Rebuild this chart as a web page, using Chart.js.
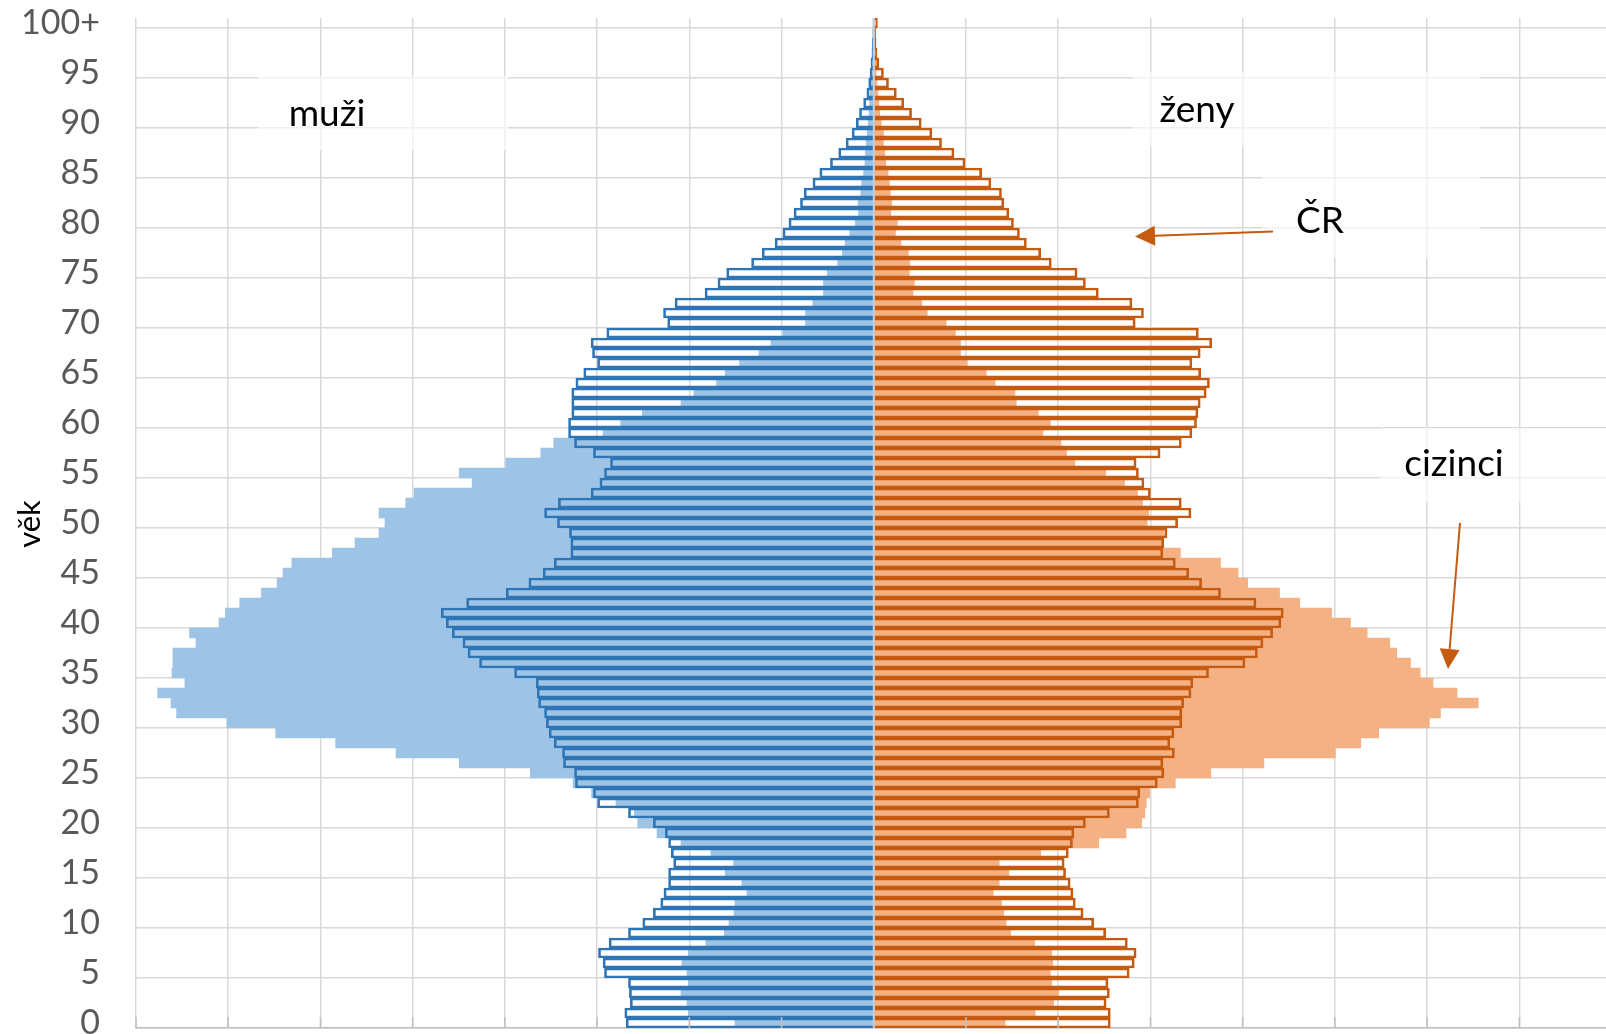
<!DOCTYPE html>
<html lang="cs">
<head>
<meta charset="utf-8">
<title>Věková struktura obyvatel ČR a cizinců</title>
<script src="https://cdn.jsdelivr.net/npm/chart.js@4.4.1/dist/chart.umd.min.js"></script>
<style>
  html, body { margin: 0; padding: 0; background: #ffffff; }
  #obal { width: 1606px; height: 1034px; position: relative; }
</style>
</head>
<body>
<div id="obal"><canvas id="pyramida" width="1606" height="1034"></canvas></div>
<script>
// Věkové kategorie 0 … 100+ (jednoleté)
const vekoveKategorie = Array.from({ length: 101 }, (_, i) => (i === 100 ? '100+' : String(i)));

// Podíl na populaci v % (index = věk)
const muziCR = [
  0.537, 0.540, 0.528, 0.530, 0.532, 0.584, 0.587, 0.597, 0.574, 0.532,
  0.501, 0.478, 0.462, 0.455, 0.445, 0.445, 0.434, 0.439, 0.445, 0.452,
  0.478, 0.532, 0.599, 0.608, 0.647, 0.649, 0.673, 0.675, 0.693, 0.704,
  0.710, 0.714, 0.727, 0.730, 0.732, 0.779, 0.855, 0.880, 0.891, 0.914,
  0.927, 0.938, 0.883, 0.797, 0.748, 0.717, 0.693, 0.657, 0.657, 0.660,
  0.686, 0.714, 0.684, 0.613, 0.594, 0.584, 0.571, 0.608, 0.649, 0.662,
  0.662, 0.655, 0.655, 0.655, 0.646, 0.629, 0.599, 0.610, 0.613, 0.579,
  0.447, 0.456, 0.431, 0.366, 0.338, 0.319, 0.265, 0.242, 0.214, 0.197,
  0.184, 0.173, 0.159, 0.151, 0.132, 0.117, 0.094, 0.076, 0.060, 0.047,
  0.038, 0.031, 0.022, 0.015, 0.011, 0.008, 0.006, 0.004, 0.003, 0.002,
  0.001
];
const muziCizinci = [
  0.301, 0.402, 0.405, 0.418, 0.402, 0.405, 0.416, 0.402, 0.364, 0.324,
  0.314, 0.303, 0.301, 0.275, 0.286, 0.322, 0.304, 0.353, 0.418, 0.470,
  0.512, 0.519, 0.559, 0.612, 0.652, 0.745, 0.899, 1.036, 1.167, 1.297,
  1.403, 1.512, 1.524, 1.553, 1.494, 1.522, 1.520, 1.520, 1.470, 1.484,
  1.420, 1.406, 1.375, 1.328, 1.294, 1.281, 1.262, 1.174, 1.125, 1.073,
  1.060, 1.073, 1.015, 0.997, 0.871, 0.899, 0.798, 0.722, 0.694, 0.587,
  0.549, 0.502, 0.418, 0.390, 0.341, 0.322, 0.291, 0.249, 0.223, 0.197,
  0.148, 0.148, 0.132, 0.109, 0.109, 0.101, 0.078, 0.068, 0.062, 0.052,
  0.040, 0.033, 0.034, 0.028, 0.026, 0.022, 0.019, 0.018, 0.016, 0.014,
  0.012, 0.010, 0.009, 0.008, 0.007, 0.005, 0.004, 0.003, 0.002, 0.001,
  0.001
];
const zenyCR = [
  0.513, 0.513, 0.504, 0.511, 0.508, 0.554, 0.565, 0.569, 0.550, 0.503,
  0.477, 0.454, 0.437, 0.432, 0.426, 0.416, 0.413, 0.422, 0.431, 0.434,
  0.459, 0.511, 0.574, 0.577, 0.615, 0.629, 0.627, 0.652, 0.642, 0.651,
  0.668, 0.668, 0.672, 0.688, 0.692, 0.726, 0.805, 0.832, 0.844, 0.865,
  0.883, 0.888, 0.829, 0.752, 0.711, 0.683, 0.654, 0.627, 0.629, 0.636,
  0.659, 0.688, 0.667, 0.600, 0.586, 0.574, 0.569, 0.621, 0.667, 0.690,
  0.700, 0.703, 0.708, 0.721, 0.728, 0.709, 0.690, 0.708, 0.733, 0.704,
  0.567, 0.585, 0.560, 0.487, 0.459, 0.441, 0.385, 0.362, 0.331, 0.316,
  0.303, 0.293, 0.282, 0.277, 0.254, 0.234, 0.198, 0.174, 0.147, 0.126,
  0.103, 0.082, 0.065, 0.049, 0.032, 0.021, 0.011, 0.007, 0.005, 0.004,
  0.008
];
const zenyCizinci = [
  0.285, 0.350, 0.390, 0.401, 0.386, 0.383, 0.388, 0.386, 0.349, 0.297,
  0.287, 0.282, 0.277, 0.259, 0.272, 0.293, 0.272, 0.362, 0.488, 0.547,
  0.581, 0.588, 0.591, 0.598, 0.654, 0.731, 0.846, 1.001, 1.056, 1.095,
  1.205, 1.229, 1.311, 1.265, 1.213, 1.185, 1.164, 1.134, 1.119, 1.070,
  1.034, 0.993, 0.924, 0.880, 0.811, 0.790, 0.752, 0.665, 0.627, 0.629,
  0.593, 0.596, 0.583, 0.572, 0.544, 0.503, 0.436, 0.418, 0.406, 0.367,
  0.383, 0.357, 0.309, 0.306, 0.263, 0.244, 0.203, 0.188, 0.188, 0.177,
  0.157, 0.116, 0.104, 0.085, 0.088, 0.077, 0.078, 0.075, 0.059, 0.047,
  0.051, 0.037, 0.039, 0.036, 0.034, 0.031, 0.026, 0.024, 0.021, 0.021,
  0.016, 0.013, 0.011, 0.009, 0.007, 0.005, 0.005, 0.004, 0.003, 0.002,
  0.002
];

// Barvy řad
const barvy = {
  muziCR: '#2E75B6',
  muziCizinci: '#9DC3E6',
  zenyCR: '#C55A11',
  zenyCizinci: '#F4B183',
  mrizka: '#d9d9d9',
  osa: '#bfbfbf',
  stred: '#c3cfdb',
  popisOsy: '#595959'
};

const PISMO = 'Lato, "Open Sans", "DejaVu Sans", sans-serif';

// Popisky v ploše grafu (pixely plátna)
const popisky = [
  { text: 'muži', x: 327, y: 126 },
  { text: 'ženy', x: 1197, y: 122 },
  { text: 'ČR', x: 1320, y: 233 },
  { text: 'cizinci', x: 1454, y: 476 }
];
// Bílé podklady textových polí
const podkladyPopisku = [
  { x: 258, y: 76, w: 250, h: 74 },
  { x: 1133, y: 72, w: 347, h: 75 },
  { x: 1262, y: 147, w: 218, h: 111 },
  { x: 1380, y: 428, w: 226, h: 74 }
];
// Šipky: odkud -> kam (hrot)
const sipky = [
  { x1: 1273, y1: 231.5, x2: 1135, y2: 236.5 },
  { x1: 1460, y1: 523, x2: 1448, y2: 669 }
];

function nakresliSipku(ctx, s) {
  const delka = 20, polosirka = 10;
  const uhel = Math.atan2(s.y2 - s.y1, s.x2 - s.x1);
  const bx = s.x2 - delka * Math.cos(uhel);
  const by = s.y2 - delka * Math.sin(uhel);
  ctx.beginPath();
  ctx.moveTo(s.x1, s.y1);
  ctx.lineTo(bx, by);
  ctx.stroke();
  ctx.beginPath();
  ctx.moveTo(s.x2, s.y2);
  ctx.lineTo(bx + polosirka * Math.sin(uhel), by - polosirka * Math.cos(uhel));
  ctx.lineTo(bx - polosirka * Math.sin(uhel), by + polosirka * Math.cos(uhel));
  ctx.closePath();
  ctx.fill();
}

const doplnky = {
  id: 'doplnkyPyramidy',
  beforeDatasetsDraw(chart) {
    const { ctx, chartArea: a } = chart;
    ctx.save();
    ctx.beginPath();
    ctx.rect(a.left, a.top, a.width, a.height);
    ctx.clip();
    ctx.fillStyle = 'rgba(255,255,255,0.6)';
    podkladyPopisku.forEach(p => ctx.fillRect(p.x, p.y, p.w, p.h));
    ctx.restore();
  },
  afterDatasetsDraw(chart) {
    const { ctx, chartArea: a, scales: { x } } = chart;
    ctx.save();
    // krátké značky na vodorovné ose
    ctx.strokeStyle = barvy.osa;
    ctx.lineWidth = 1.5;
    x.ticks.forEach(t => {
      if (t.value === 0) return;
      const px = x.getPixelForValue(t.value);
      ctx.beginPath();
      ctx.moveTo(px, a.bottom);
      ctx.lineTo(px, a.bottom - 11);
      ctx.stroke();
    });
    // svislá osa uprostřed pyramidy
    const x0 = x.getPixelForValue(0);
    ctx.strokeStyle = barvy.stred;
    ctx.lineWidth = 2;
    ctx.beginPath();
    ctx.moveTo(x0, a.top);
    ctx.lineTo(x0, a.bottom);
    ctx.stroke();
    ctx.restore();
  },
  afterDraw(chart) {
    const { ctx } = chart;
    ctx.save();
    // popisky pohlaví a řad
    ctx.fillStyle = '#000000';
    ctx.font = '37px ' + PISMO;
    ctx.textAlign = 'center';
    ctx.textBaseline = 'alphabetic';
    popisky.forEach(p => ctx.fillText(p.text, p.x, p.y));
    // šipky
    ctx.strokeStyle = barvy.zenyCR;
    ctx.fillStyle = barvy.zenyCR;
    ctx.lineWidth = 2;
    sipky.forEach(s => nakresliSipku(ctx, s));
    // název svislé osy
    ctx.fillStyle = '#000000';
    ctx.font = '31px ' + PISMO;
    ctx.textAlign = 'center';
    ctx.textBaseline = 'middle';
    ctx.translate(30, 524);
    ctx.rotate(-Math.PI / 2);
    ctx.fillText('věk', 0, 0);
    ctx.restore();
  }
};

function vykresli() {
  new Chart(document.getElementById('pyramida'), {
    type: 'bar',
    data: {
      labels: vekoveKategorie,
      datasets: [
        {
          label: 'muži – ČR',
          data: muziCR.map(v => -v),
          backgroundColor: 'rgba(255,255,255,0)',
          borderColor: barvy.muziCR,
          borderWidth: 2,
          order: 0
        },
        {
          label: 'ženy – ČR',
          data: zenyCR,
          backgroundColor: 'rgba(255,255,255,0)',
          borderColor: barvy.zenyCR,
          borderWidth: 2,
          order: 0
        },
        {
          label: 'muži – cizinci',
          data: muziCizinci.map(v => -v),
          backgroundColor: barvy.muziCizinci,
          borderWidth: 0,
          order: 1
        },
        {
          label: 'ženy – cizinci',
          data: zenyCizinci,
          backgroundColor: barvy.zenyCizinci,
          borderWidth: 0,
          order: 1
        }
      ]
    },
    options: {
      indexAxis: 'y',
      responsive: false,
      animation: false,
      devicePixelRatio: 1,
      datasets: {
        bar: { grouped: false, barPercentage: 1, categoryPercentage: 1 }
      },
      layout: { padding: { top: 18, bottom: 6, left: 0, right: 0 } },
      plugins: { legend: { display: false }, tooltip: { enabled: false } },
      scales: {
        x: {
          type: 'linear',
          min: -1.6,
          max: 1.588,
          ticks: { stepSize: 0.2, includeBounds: false, display: false },
          grid: { color: barvy.mrizka, lineWidth: 1.5, drawTicks: false },
          border: { display: true, color: barvy.osa, width: 1.5 },
          afterFit(s) { s.height = 0; s.paddingLeft = 0; s.paddingRight = 0; }
        },
        y: {
          type: 'category',
          reverse: true,
          offset: true,
          ticks: {
            autoSkip: false,
            padding: 36,
            color: barvy.popisOsy,
            font: { family: PISMO, size: 34 },
            callback(v, i) { return i % 5 === 0 ? this.getLabelForValue(v) : ''; }
          },
          grid: {
            offset: true,
            drawTicks: false,
            lineWidth: 1.5,
            color(c) { return c.index % 5 === 0 ? barvy.mrizka : 'rgba(0,0,0,0)'; }
          },
          border: { display: false },
          afterFit(s) { s.width = 136; s.paddingTop = 0; s.paddingBottom = 0; }
        }
      }
    },
    plugins: [doplnky]
  });
}

if (document.fonts && document.fonts.load) {
  Promise.all([document.fonts.load('34px Lato'), document.fonts.load('37px Lato')])
    .then(vykresli, vykresli);
} else {
  vykresli();
}
</script>
</body>
</html>
